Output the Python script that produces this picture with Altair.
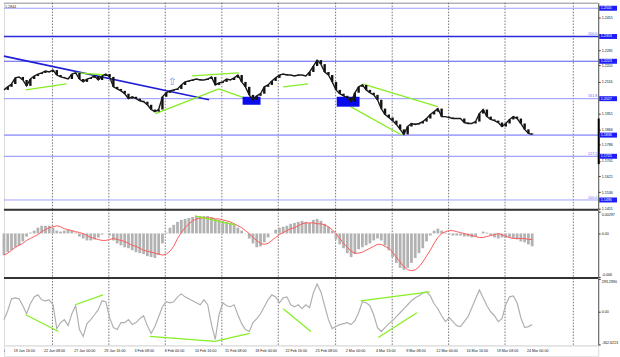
import altair as alt
import pandas as pd

# ---------------- data ----------------
# one sample every 2 H4 bars
closes = [1.2073,1.2089,1.2104,1.2136,1.2141,1.2125,1.2094,1.2130,1.2146,1.2156,
          1.2162,1.2172,1.2167,1.2177,1.2151,1.2141,1.2136,1.2130,1.2156,1.2162,
          1.2130,1.2115,1.2130,1.2136,1.2146,1.2125,1.2146,1.2156,1.2141,1.2089,
          1.2078,1.2068,1.2053,1.2027,1.2037,1.2027,1.2016,1.2011,1.1995,1.1970,
          1.1959,1.1970,1.2037,1.2058,1.2068,1.2073,1.2078,1.2099,1.2115,1.2120,
          1.2125,1.2130,1.2125,1.2125,1.2130,1.2141,1.2099,1.2110,1.2115,1.2130,
          1.2125,1.2136,1.2151,1.2115,1.2089,1.2047,1.2021,1.2042,1.2053,1.2089,
          1.2099,1.2120,1.2136,1.2151,1.2156,1.2151,1.2151,1.2146,1.2151,1.2151,
          1.2146,1.2167,1.2198,1.2229,1.2208,1.2167,1.2151,1.2115,1.2073,1.2053,
          1.2042,1.2032,1.2011,1.2058,1.2089,1.2099,1.2073,1.2058,1.2047,1.2021,
          1.1975,1.1944,1.1928,1.1912,1.1892,1.1866,1.1840,1.1881,1.1897,1.1892,
          1.1897,1.1907,1.1923,1.1944,1.1959,1.1975,1.1933,1.1933,1.1928,1.1923,
          1.1923,1.1923,1.1902,1.1897,1.1897,1.1907,1.1949,1.1970,1.1933,1.1918,
          1.1912,1.1902,1.1881,1.1897,1.1918,1.1933,1.1923,1.1897,1.1866,1.1845,
          1.1840]

macd_hist = [-0.00301,-0.00260,-0.00233,-0.00192,-0.00165,-0.00111,-0.00043,0.00012,0.00039,0.00080,
             0.00107,0.00107,0.00107,0.00080,0.00039,0.00025,0.00039,0.00052,0.00039,0.00012,
             -0.00043,-0.00070,-0.00097,-0.00097,-0.00084,-0.00056,-0.00016,-0.00002,-0.00029,-0.00097,
             -0.00138,-0.00165,-0.00192,-0.00206,-0.00233,-0.00260,-0.00274,-0.00287,-0.00315,-0.00328,
             -0.00342,-0.00301,-0.00138,0.00012,0.00080,0.00120,0.00161,0.00188,0.00202,0.00215,
             0.00229,0.00243,0.00243,0.00243,0.00243,0.00229,0.00202,0.00188,0.00175,0.00161,
             0.00147,0.00120,0.00080,0.00039,-0.00002,-0.00070,-0.00138,-0.00192,-0.00179,-0.00124,
             -0.00056,-0.00002,0.00052,0.00080,0.00093,0.00107,0.00134,0.00147,0.00161,0.00175,
             0.00161,0.00147,0.00188,0.00202,0.00175,0.00134,0.00093,0.00039,-0.00084,-0.00152,
             -0.00206,-0.00274,-0.00328,-0.00287,-0.00220,-0.00192,-0.00165,-0.00138,-0.00097,-0.00070,
             -0.00097,-0.00165,-0.00233,-0.00328,-0.00410,-0.00478,-0.00505,-0.00478,-0.00410,-0.00342,
             -0.00274,-0.00206,-0.00111,-0.00029,0.00039,0.00066,0.00039,0.00012,-0.00016,-0.00029,
             -0.00029,-0.00029,-0.00043,-0.00043,-0.00056,-0.00043,-0.00002,0.00025,0.00012,-0.00029,
             -0.00056,-0.00070,-0.00056,-0.00056,-0.00056,-0.00070,-0.00084,-0.00111,-0.00124,-0.00152,
             -0.00179]

macd_signal = [-0.00301,-0.00274,-0.00233,-0.00192,-0.00165,-0.00138,-0.00097,-0.00070,-0.00043,-0.00016,
               0.00025,0.00052,0.00080,0.00093,0.00107,0.00093,0.00066,0.00052,0.00039,0.00025,
               0.00012,-0.00002,-0.00029,-0.00056,-0.00070,-0.00084,-0.00097,-0.00097,-0.00084,-0.00070,
               -0.00084,-0.00097,-0.00111,-0.00138,-0.00165,-0.00179,-0.00206,-0.00233,-0.00247,-0.00260,
               -0.00274,-0.00287,-0.00301,-0.00287,-0.00247,-0.00179,-0.00070,0.00012,0.00080,0.00134,
               0.00175,0.00202,0.00215,0.00215,0.00215,0.00215,0.00202,0.00202,0.00188,0.00175,
               0.00161,0.00134,0.00107,0.00080,0.00039,-0.00002,-0.00056,-0.00097,-0.00138,-0.00152,
               -0.00138,-0.00097,-0.00056,-0.00016,0.00012,0.00039,0.00066,0.00080,0.00107,0.00134,
               0.00147,0.00147,0.00147,0.00134,0.00134,0.00120,0.00093,0.00052,-0.00002,-0.00070,
               -0.00138,-0.00192,-0.00247,-0.00274,-0.00274,-0.00260,-0.00233,-0.00206,-0.00179,-0.00152,
               -0.00152,-0.00179,-0.00206,-0.00260,-0.00328,-0.00396,-0.00464,-0.00505,-0.00518,-0.00505,
               -0.00464,-0.00396,-0.00315,-0.00233,-0.00138,-0.00056,-0.00002,0.00025,0.00039,0.00039,
               0.00025,0.00012,-0.00002,-0.00016,-0.00029,-0.00043,-0.00056,-0.00056,-0.00043,-0.00029,
               -0.00016,-0.00002,-0.00016,-0.00043,-0.00056,-0.00070,-0.00070,-0.00070,-0.00070,-0.00084,
               -0.00084]

cci = [-77,5,113,122,113,50,-23,68,131,149,
       104,95,104,59,-158,-104,-77,-131,-23,50,
       -167,-230,-113,-77,-32,14,95,86,-59,-149,
       -167,-104,-104,-77,-122,-104,-68,-41,-131,-203,
       -140,-50,41,86,77,86,131,158,131,113,
       95,77,59,104,59,-122,-257,-32,77,50,
       41,59,-32,-113,-167,-185,-104,-68,-23,41,
       104,149,131,77,122,131,59,41,59,23,
       59,32,167,248,176,50,-77,-158,-140,-122,
       -113,-104,-122,-86,-14,86,77,50,-32,-149,
       -185,-149,-113,-86,-50,-14,23,59,95,122,
       140,167,176,140,68,23,-41,-95,-59,-95,
       -131,-140,-95,-50,32,113,194,122,50,-5,
       -41,-95,-68,59,131,140,77,-59,-149,-140,
       -122]

date_labels = ["15 Jan 00:00", "19 Jan 16:00", "22 Jan 08:00", "27 Jan 00:00", "29 Jan 16:00",
               "3 Feb 08:00", "8 Feb 00:00", "10 Feb 16:00", "15 Feb 08:00", "18 Feb 00:00",
               "22 Feb 16:00", "25 Feb 08:00", "2 Mar 00:00", "4 Mar 16:00", "9 Mar 08:00",
               "12 Mar 00:00", "16 Mar 16:00", "19 Mar 08:00", "24 Mar 00:00"]
date_bars = [-10.8, 5.2, 21.2, 37.2, 53.2, 69.2, 85.2, 101.2, 117.2, 133.2,
             149.2, 165.2, 181.2, 197.2, 213.2, 229.2, 245.2, 261.2, 277.2]
grid_bars = [25.7, 55.6, 85.5, 115.5, 145.4, 175.8, 205.8, 235.7, 265.6, 301.8]

level_prices = [1.2501, 1.2353, 1.2223, 1.2027, 1.1836, 1.1725, 1.1496]
level_texts = ["1.2501", "1.2353", "1.2223", "1.2027", "1.1836", "1.1725", "1.1496"]
fib_texts = ["200.0", "161.8", "127.2", "100.0"]
fib_prices = [1.2353, 1.2027, 1.1725, 1.1496]
# visible price-scale labels (the others are hidden behind the level boxes)
price_ticks = [1.2451, 1.2281, 1.2201, 1.2116, 1.1951, 1.1866,
               1.1786, 1.1701, 1.1621, 1.1536, 1.1451]
corner_text = ["1.2844"]

trend_x1, trend_y1, trend_x2, trend_y2 = [0.0], [1.2250], [108.7], [1.2021]
green_x1 = [11.5, 39.4, 80.3, 99.7, 113.9, 148.0, 190.0, 183.7]
green_y1 = [1.2073, 1.2162, 1.1949, 1.2146, 1.2078, 1.2089, 1.2104, 1.1985]
green_x2 = [33.1, 53.5, 113.9, 124.4, 127.0, 161.2, 229.9, 211.0]
green_y2 = [1.2104, 1.2151, 1.2078, 1.2162, 1.2032, 1.2104, 1.1985, 1.1835]
box_x1, box_x2 = [126.5, 176.4], [136.0, 188.5]
box_y1, box_y2 = [1.2037, 1.2037], [1.1995, 1.1985]
arrow_bar, arrow_price = [89.2], [1.2112]
marker_lo, marker_hi = [1.1684], [1.1923]

macd_green_x1, macd_green_y1 = [101.3], [0.00243]
macd_green_x2, macd_green_y2 = [122.3], [0.00120]
macd_ticks = [0.00297, 0.0, -0.006]
macd_tick_texts = ["0.00297", "0.00", "-0.006"]

cci_green_x1 = [11.5, 37.8, 77.2, 111.8, 148.0, 189.0, 198.4]
cci_green_y1 = [-32, 59, -230, -275, 23, 95, -239]
cci_green_x2 = [28.9, 52.5, 111.8, 130.2, 162.7, 225.7, 218.9]
cci_green_y2 = [-185, 149, -275, -203, -185, 176, -14]
cci_ticks = [293.299, 0.0, -302.6213]
cci_tick_texts = ["293.2990", "0.00", "-302.6213"]

# ---------------- styles ----------------
BAR_STEP = 2
FONT = "Liberation Sans"
FS = 3.7
W = 600
H_MAIN, H_MACD, H_CCI, H_DATE = 209, 69, 68, 11
level_colors = ["#9c9cff", "#2b2bdc", "#5a5af0", "#9494ff", "#a6a6ff", "#8a8af8", "#a0a0ff"]
level_widths = [1, 1.4, 1.1, 1, 1.8, 1, 1]
GREEN = "#86ee22"

# ---------------- frames ----------------
bars = [BAR_STEP * j for j in range(len(closes))]
opens = [closes[0]] + closes[:-1]
df_c = pd.DataFrame({"bar": bars, "open": opens, "close": closes})
df_m = pd.DataFrame({"bar": bars, "hist": macd_hist, "signal": macd_signal})
df_cci = pd.DataFrame({"bar": bars, "cci": cci})
df_grid = pd.DataFrame({"bar": grid_bars})
df_levels = pd.DataFrame({"price": level_prices, "label": level_texts,
                          "col": level_colors, "w": level_widths})
df_fib = pd.DataFrame({"price": fib_prices, "label": fib_texts})
df_trend = pd.DataFrame({"x1": trend_x1, "y1": trend_y1, "x2": trend_x2, "y2": trend_y2})
df_green = pd.DataFrame({"x1": green_x1, "y1": green_y1, "x2": green_x2, "y2": green_y2})
df_box = pd.DataFrame({"x1": box_x1, "x2": box_x2, "y1": box_y1, "y2": box_y2})
df_arrow = pd.DataFrame({"bar": arrow_bar, "price": arrow_price})
df_marker = pd.DataFrame({"lo": marker_lo, "hi": marker_hi})
df_corner = pd.DataFrame({"t": corner_text})
df_one = pd.DataFrame({"a": [0]})
df_mg = pd.DataFrame({"x1": macd_green_x1, "y1": macd_green_y1, "x2": macd_green_x2, "y2": macd_green_y2})
df_cg = pd.DataFrame({"x1": cci_green_x1, "y1": cci_green_y1, "x2": cci_green_x2, "y2": cci_green_y2})
df_dates = pd.DataFrame({"bar": date_bars, "label": date_labels})

xs = alt.Scale(domain=[0, 315], nice=False, zero=False)


def X(f):
    return alt.X(f, type="quantitative", scale=xs, axis=None)


def label_expr(ticks, texts):
    e = "''"
    for v, t in zip(reversed(ticks), reversed(texts)):
        e = f"abs(datum.value - ({v})) < 1e-7 ? '{t}' : {e}"
    return e


axis_common = dict(orient="right", labelFontSize=FS, labelFont=FONT, labelColor="#111",
                   tickSize=2, tickColor="#333", domainColor="#555", grid=False,
                   labelPadding=1, labelOverlap=False, labelFlush=False, title=None)

# top label sits below its tick, bottom label above it (MetaTrader style)
edge_baseline = {"expr": "datum.index == 0 ? 'bottom' : datum.index == 1 ? 'top' : 'middle'"}

ys = alt.Scale(domain=[1.1445, 1.2530], nice=False, zero=False)
price_axis = alt.Axis(values=price_ticks, format=".4f", **axis_common)


def YP(f):
    return alt.Y(f, type="quantitative", scale=ys, axis=price_axis, title=None)


ym = alt.Scale(domain=[-0.0062, 0.0033], nice=False, zero=False)
macd_axis = alt.Axis(values=macd_ticks, labelExpr=label_expr(macd_ticks, macd_tick_texts),
                     labelBaseline=edge_baseline, **axis_common)


def YM(f):
    return alt.Y(f, type="quantitative", scale=ym, axis=macd_axis, title=None)


yc = alt.Scale(domain=[-311.5, 302.5], nice=False, zero=False)
cci_axis = alt.Axis(values=cci_ticks, labelExpr=label_expr(cci_ticks, cci_tick_texts),
                    labelBaseline=edge_baseline, **axis_common)


def YC(f):
    return alt.Y(f, type="quantitative", scale=yc, axis=cci_axis, title=None)


def grid_layer():
    return alt.Chart(df_grid).mark_rule(color="#505050", strokeDash=[1.5, 1.5], strokeWidth=0.8).encode(x=X("bar"))


# ---------------- main panel ----------------
top_line = alt.Chart(df_one).mark_rule(color="#9a9a9a", strokeWidth=1).encode(y=alt.value(0.5))
levels = alt.Chart(df_levels).mark_rule().encode(
    y=YP("price"), color=alt.Color("col:N", scale=None), strokeWidth=alt.StrokeWidth("w:Q", scale=None))
trend = alt.Chart(df_trend).mark_rule(color="#1f1fd6", strokeWidth=1.6).encode(
    x=X("x1"), x2="x2", y=YP("y1"), y2="y2")
greens = alt.Chart(df_green).mark_rule(color=GREEN, strokeWidth=1.3).encode(
    x=X("x1"), x2="x2", y=YP("y1"), y2="y2")
boxes = alt.Chart(df_box).mark_rect(color="#0a0aee").encode(
    x=X("x1"), x2="x2", y=YP("y1"), y2="y2")
bodies = alt.Chart(df_c).mark_rule(color="#111111", strokeWidth=2.4).encode(
    x=X("bar"), y=YP("open"), y2="close")
cline = alt.Chart(df_c).mark_line(color="#1a1a1a", strokeWidth=1.4).encode(x=X("bar"), y=YP("close"))
arrow = alt.Chart(df_arrow).mark_text(text="⇧", fontSize=10, color="#6b8df5", font="DejaVu Sans",
                                      baseline="middle").encode(x=X("bar"), y=YP("price"))
lab_boxes = alt.Chart(df_levels).mark_rule(color="#1d1dfa", strokeWidth=5).encode(
    x=alt.value(601), x2=alt.value(619), y=YP("price"))
lab_texts = alt.Chart(df_levels).mark_text(color="white", fontSize=FS, font=FONT, align="left",
                                           baseline="middle").encode(
    x=alt.value(602.5), y=YP("price"), text="label:N")
fibs = alt.Chart(df_fib).mark_text(color="#6464ff", fontSize=FS, font=FONT, align="right",
                                   baseline="bottom", dy=-0.3).encode(
    x=alt.value(599), y=YP("price"), text="label:N")
marker = alt.Chart(df_marker).mark_rule(color="#000000", strokeWidth=2).encode(
    x=alt.value(600.5), y=YP("lo"), y2="hi")
corner = alt.Chart(df_corner).mark_text(fontSize=FS, font=FONT, color="#333", align="left",
                                        baseline="middle").encode(
    x=alt.value(1), y=alt.value(4), text="t:N")

main = alt.layer(top_line, grid_layer(), levels, trend, greens, boxes, bodies, cline, arrow,
                 marker, lab_boxes, lab_texts, fibs, corner).properties(width=W, height=H_MAIN)

# ---------------- MACD panel ----------------
sep_m = alt.Chart(df_one).mark_rule(color="#333333", strokeWidth=2).encode(y=alt.value(0))
hist = alt.Chart(df_m).mark_rule(color="#b2b2b2", strokeWidth=2.8).encode(
    x=X("bar"), y=YM("hist"), y2=alt.datum(0))
signal = alt.Chart(df_m).mark_line(color="#ff5a5a", strokeWidth=1).encode(x=X("bar"), y=YM("signal"))
mgreen = alt.Chart(df_mg).mark_rule(color=GREEN, strokeWidth=1.3).encode(
    x=X("x1"), x2="x2", y=YM("y1"), y2="y2")
macd = alt.layer(grid_layer(), hist, signal, mgreen, sep_m).properties(width=W, height=H_MACD)

# ---------------- CCI panel ----------------
sep_c = alt.Chart(df_one).mark_rule(color="#333333", strokeWidth=2).encode(y=alt.value(0))
cci_line = alt.Chart(df_cci).mark_line(color="#b0b0b0", strokeWidth=1.2).encode(x=X("bar"), y=YC("cci"))
cgreen = alt.Chart(df_cg).mark_rule(color=GREEN, strokeWidth=1.3).encode(
    x=X("x1"), x2="x2", y=YC("y1"), y2="y2")
cci_panel = alt.layer(grid_layer(), cci_line, cgreen, sep_c).properties(width=W, height=H_CCI)

# ---------------- date labels ----------------
dates = alt.Chart(df_dates).mark_text(align="left", baseline="middle", fontSize=FS, font=FONT,
                                      color="#222", clip=True).encode(
    x=X("bar"), y=alt.value(5.5), text="label:N").properties(width=W, height=H_DATE)

chart = alt.vconcat(main, macd, cci_panel, dates, spacing=0, bounds="flush").properties(
    padding=0).configure_view(stroke=None).configure(font=FONT)

chart.save("out.html", embed_options={"renderer": "svg", "actions": False})
